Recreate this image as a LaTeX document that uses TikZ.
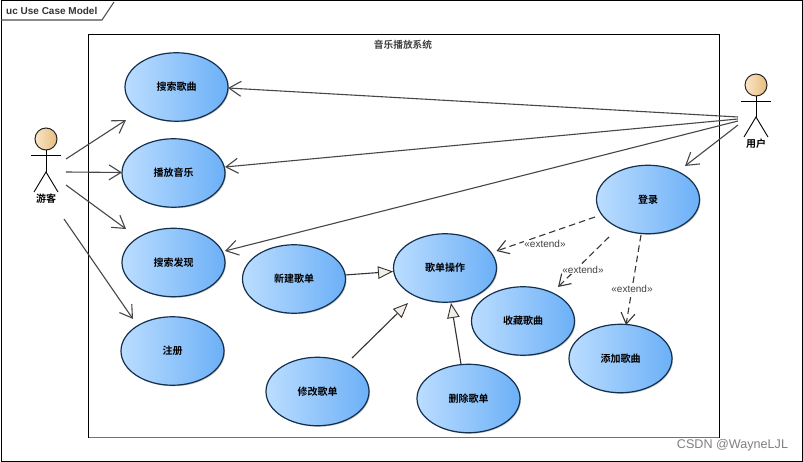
\documentclass[tikz,border=0pt]{standalone}
\usepackage{fontspec}
\setmainfont{Liberation Sans}
\newfontfamily\cjk{Noto Sans CJK SC Bold}
\usetikzlibrary{arrows.meta,shadows,shapes.geometric}
\definecolor{uclight}{HTML}{BBDDFF}
\definecolor{ucdark}{HTML}{6CB0F7}
\definecolor{ucline}{HTML}{14304F}
\definecolor{headlight}{HTML}{FBE6C6}
\definecolor{headdark}{HTML}{E6BC80}
\definecolor{tri}{HTML}{F3EFE6}
\tikzset{
  usecase/.style={ellipse,minimum width=103pt,minimum height=68.5pt,inner sep=0pt,
    draw=ucline,line width=1.2pt,left color=uclight,right color=ucdark,
    drop shadow={shadow xshift=1pt,shadow yshift=-1pt,opacity=.25,fill=black},
    font=\cjk\fontsize{10pt}{12pt}\selectfont,text=black},
  assoc/.style={draw=black!72,line width=1.1pt,-{Straight Barb[length=12pt,width=15pt,line width=1.1pt]}},
  ext/.style={draw=black!78,line width=1.1pt,dash pattern=on 6.5pt off 4pt,-{Straight Barb[length=11pt,width=14pt,line width=1.1pt]}},
  gen/.style={draw=black!80,line width=1.1pt,-{Triangle[length=15pt,width=12.5pt,fill=tri,line width=.9pt]}},
  extlabel/.style={font=\fontsize{10pt}{12pt}\selectfont,text=black!75,inner sep=0pt},
  actorname/.style={font=\cjk\fontsize{10pt}{12pt}\selectfont,inner sep=0pt},
  actorline/.style={draw=black,line width=.9pt},
  head/.style={circle,minimum size=22pt,inner sep=0pt,draw=black!85,line width=1pt,left color=headlight,right color=headdark},
}
\begin{document}
\begin{tikzpicture}[x=1pt,y=-1pt]
\useasboundingbox (0,0) rectangle (803,462);
\fill[white] (0,0) rectangle (803,462);
\draw[black,line width=1pt] (1,1) rectangle (802,461);
\draw[black!70,line width=1.1pt] (1,20) -- (102,20) -- (114,2);
\node[anchor=west,inner sep=0pt,font=\bfseries\fontsize{10pt}{12pt}\selectfont,text=black!80] (frametitle) at (6,10.5) {uc Use Case Model};
\draw[black,line width=1pt] (88.5,438) -- (88.5,35) -- (719,35) -- (719,438);
\draw[black!55,line width=1.4pt] (88.5,437.5) -- (719,437.5);
\node[font=\cjk\fontsize{9.7pt}{12pt}\selectfont,inner sep=0pt,text=black!75] (systitle) at (403,44.5) {音乐播放系统};

\node[usecase] (search) at (176.5,87) {搜索歌曲};
\node[usecase] (play) at (173.5,173) {播放音乐};
\node[usecase] (discover) at (173.5,262.5) {搜索发现};
\node[usecase] (register) at (172.5,351) {注册};
\node[usecase] (newlist) at (294,279) {新建歌单};
\node[usecase] (listop) at (445,268) {歌单操作};
\node[usecase] (editlist) at (317.5,391.5) {修改歌单};
\node[usecase] (dellist) at (468.5,398.5) {删除歌单};
\node[usecase] (fav) at (523,321) {收藏歌曲};
\node[usecase] (addsong) at (620.5,358.5) {添加歌曲};
\node[usecase] (login) at (648,199.5) {登录};

% actors
\node[head] (guesthead) at (46,139) {};
\coordinate (guestwaist) at (46,172);
\draw[actorline] (guesthead.south) -- (guestwaist);
\draw[actorline] (31,155.5) -- (61,155.5);
\draw[actorline] (34,192) -- (guestwaist) -- (58,192);
\node[actorname] (guest) at (46,198.5) {游客};
\node[head] (userhead) at (756,85) {};
\coordinate (userwaist) at (756,117);
\draw[actorline] (userhead.south) -- (userwaist);
\draw[actorline] (741,101) -- (771,101);
\draw[actorline] (744,137) -- (userwaist) -- (768,137);
\node[actorname] (user) at (756,143.5) {用户};

% free ends
\coordinate (g1) at (66,159);
\coordinate (g2) at (66,172);
\coordinate (g3) at (66,185);
\coordinate (g4) at (64,219);
\coordinate (u1) at (738,117);
\coordinate (u2) at (738,119);
\coordinate (u3) at (738,121);
\coordinate (u4) at (738,125);
\coordinate (t1) at (126,120);
\coordinate (t2) at (122,172.5);
\coordinate (t3) at (126,229);
\coordinate (t4) at (133,319);
\coordinate (t5) at (685,166);
\coordinate (t6) at (228,88);
\coordinate (t7) at (225,167);
\coordinate (t8) at (225,251);
\coordinate (e1s) at (595,217);
\coordinate (e1t) at (496.5,251);
\coordinate (e2s) at (609,237);
\coordinate (e2t) at (558,287);
\coordinate (e3s) at (641,235);
\coordinate (e3t) at (626,325);
\coordinate (g1s) at (345,275);
\coordinate (g1t) at (393,271.5);
\coordinate (g2s) at (352,358);
\coordinate (g2t) at (408,303);
\coordinate (g3s) at (461,364);
\coordinate (g3t) at (451,303);

\draw[assoc] (g1) -- (t1);
\draw[assoc] (g2) -- (t2);
\draw[assoc] (g3) -- (t3);
\draw[assoc] (g4) -- (t4);
\draw[assoc] (u1) -- (t6);
\draw[assoc] (u2) -- (t7);
\draw[assoc] (u3) -- (t8);
\draw[assoc] (u4) -- (t5);
\draw[ext] (e1s) -- (e1t);
\draw[ext] (e2s) -- (e2t);
\draw[ext] (e3s) -- (e3t);
\node[extlabel,fill=white] (x1) at (545,244) {«extend»};
\node[extlabel,fill=white] (x2) at (583,270) {«extend»};
\node[extlabel,fill=white] (x3) at (632,289) {«extend»};
\draw[gen] (g1s) -- (g1t);
\draw[gen] (g2s) -- (g2t);
\draw[gen] (g3s) -- (g3t);

\node[font=\fontsize{12.6pt}{14pt}\selectfont,text=black!50,inner sep=0pt] (wm) at (732.5,445.5) {CSDN @WayneLJL};
\end{tikzpicture}
\end{document}
